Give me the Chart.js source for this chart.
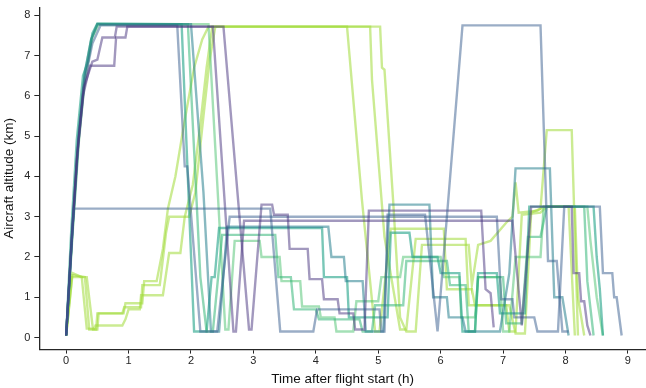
<!DOCTYPE html>
<html>
<head>
<meta charset="utf-8">
<script src="https://cdn.jsdelivr.net/npm/chart.js@4.4.1/dist/chart.umd.min.js"></script>
<style>
  html, body { margin: 0; padding: 0; background: #fff; }
  #wrap { width: 646px; height: 388px; }
</style>
</head>
<body>
<div id="wrap"><canvas id="alt"></canvas></div>
<script>
// each flight: [hours after start, altitude km]
const flightP1 = [[0,0.05],[0.08,2.2],[0.17,4.4],[0.27,6.0],[0.38,6.75],[0.77,6.75],[0.8,7.45],[0.95,7.45],[0.98,7.72],[2.52,7.72],[2.93,0.2],[2.97,0.2],[3.13,3.3],[3.3,3.3],[3.33,3.05],[3.55,3.05],[3.58,2.2],[3.87,2.2],[3.9,1.45],[4.1,1.45],[4.13,0.95],[4.35,0.95],[4.38,0.6],[4.6,0.6],[4.63,0.2],[4.78,0.2],[4.85,3.15],[6.65,3.15],[6.72,1.2],[6.8,1.1],[6.85,0.25]]
const flightP2 = [[0,0.05],[0.09,2.5],[0.18,4.6],[0.28,6.2],[0.42,6.85],[0.5,6.9],[0.58,7.45],[0.78,7.45],[0.81,7.72],[2.35,7.72],[2.68,0.15],[2.72,0.15],[2.85,2.9],[7.15,2.9],[7.3,0.3],[7.45,3.25],[8.1,3.25],[8.13,1.6],[8.22,1.6],[8.25,0.9],[8.3,0.9],[8.35,0.3],[8.4,0.05]]
const flightB1 = [[0,0.05],[0.12,3.2],[3.27,3.2],[3.43,0.15],[3.96,0.15],[4.02,0.7],[5.02,0.7],[5.05,0.15],[5.1,0.15],[5.15,3.05],[5.75,3.05],[5.95,0.15],[6.35,7.75],[7.6,7.75],[7.72,1.9],[7.86,1.9],[7.95,0.15],[8.05,0.15]]
const flightB2 = [[0,0.05],[0.1,2.6],[0.2,4.9],[0.3,6.4],[0.42,7.3],[0.55,7.75],[1.78,7.75],[1.9,4.25],[1.94,4.25],[2.15,0.15],[2.42,0.15],[2.62,3.0],[6.9,3.0],[6.97,0.95],[7.15,0.95],[7.18,0.5],[7.5,0.5],[7.55,0.15],[7.88,0.15],[7.98,3.25],[8.55,3.25],[8.6,1.6],[8.75,1.6],[8.78,1.0],[8.82,1.0],[8.9,0.05]]
const flightT1 = [[0,0.05],[0.1,2.7],[0.2,5.1],[0.3,6.6],[0.4,7.4],[0.5,7.78],[2.0,7.78],[2.2,3.6],[2.32,0.15],[2.45,0.15],[2.58,2.75],[4.2,2.75],[4.25,2.0],[4.45,2.0],[4.48,1.4],[4.75,1.4],[4.8,0.15],[5.08,0.15],[5.18,3.3],[5.82,3.3],[5.88,1.0],[6.1,1.0],[6.13,0.5],[6.35,0.5],[6.4,0.15],[6.95,0.15],[7.1,1.6],[7.2,4.2],[7.75,4.2],[7.82,1.0],[7.95,1.0],[8.05,0.05]]
const flightT2 = [[0,0.05],[0.1,2.65],[0.2,5.0],[0.3,6.55],[0.4,7.4],[0.5,7.78],[1.95,7.78],[2.15,1.5],[2.25,0.15],[2.35,0.15],[2.5,2.55],[3.35,2.55],[3.4,1.5],[3.6,1.5],[3.65,0.7],[4.0,0.7],[4.05,0.45],[4.7,0.45],[4.75,0.15],[4.9,0.15],[4.95,0.8],[5.4,0.8],[5.45,1.9],[6.1,1.9],[6.15,1.3],[6.4,1.3],[6.45,0.15],[6.55,0.15],[6.6,1.5],[7.0,1.5],[7.05,0.35],[7.3,0.35],[7.4,2.5],[7.6,2.5],[7.7,3.25],[8.3,3.25],[8.35,1.4],[8.45,0.05]]
const flightG1 = [[0,0.05],[0.08,2.6],[0.17,4.9],[0.27,6.5],[0.35,6.85],[0.42,7.55],[0.5,7.8],[1.85,7.78],[2.05,0.15],[2.25,0.15],[2.33,1.5],[2.38,1.5],[2.45,2.72],[4.1,2.72],[4.13,1.5],[4.5,1.5],[4.53,0.5],[5.15,0.5],[5.2,2.6],[5.5,2.6],[5.55,2.0],[5.95,2.0],[6.0,1.6],[6.3,1.6],[6.35,0.15],[6.55,0.15],[6.6,1.6],[6.9,1.6],[6.95,0.6],[7.35,0.6],[7.42,3.25],[8.45,3.25],[8.5,2.0],[8.55,1.2],[8.6,0.05]]
const flightL1 = [[0,0.05],[0.1,2.5],[0.2,4.8],[0.3,6.4],[0.42,7.45],[0.52,7.78],[2.28,7.78],[2.55,0.2],[2.6,0.2],[2.7,2.4],[3.1,2.4],[3.13,2.0],[3.42,2.0],[3.45,1.4],[3.75,1.4],[3.78,0.77],[4.05,0.77],[4.08,0.5],[4.3,0.5],[4.33,0.15],[4.6,0.15],[4.65,0.9],[5.0,0.9],[5.05,1.5],[5.35,1.5],[5.4,2.0],[6.0,2.0],[6.05,1.5],[6.3,1.5],[6.33,0.5],[6.55,0.5],[6.6,1.5],[6.95,1.5],[7.0,0.15],[7.1,0.15],[7.2,2.0],[7.6,2.0],[7.65,3.25],[8.35,3.25],[8.4,2.4],[8.5,1.0],[8.6,0.05]]
const flightY1 = [[0,0.05],[0.08,1.5],[0.33,1.5],[0.43,0.2],[0.48,0.2],[0.5,0.6],[0.92,0.6],[0.95,0.85],[1.22,0.85],[1.25,1.4],[1.45,1.4],[1.55,2.2],[1.63,3.2],[1.75,4.0],[1.9,5.4],[2.05,6.7],[2.18,7.4],[2.28,7.72],[4.5,7.72],[4.74,3.4],[4.95,0.15],[5.02,0.15],[5.2,2.7],[6.05,2.7],[6.1,1.2],[6.5,1.2],[6.55,0.8],[7.1,0.8],[7.2,0.1],[7.35,0.1],[7.45,3.1],[7.6,3.2],[7.7,5.15],[8.1,5.15],[8.2,0.05]]
const flightY2 = [[0,0.05],[0.1,1.6],[0.25,1.5],[0.33,0.22],[0.45,0.22],[0.47,0.3],[0.9,0.3],[0.95,0.45],[1.0,0.7],[1.18,0.7],[1.2,1.05],[1.55,1.05],[1.65,2.1],[1.83,2.1],[1.9,3.0],[2.03,3.8],[2.15,5.3],[2.25,6.7],[2.34,7.72],[4.87,7.72],[4.9,6.4],[5.1,2.5],[5.35,0.2],[5.45,0.2],[5.6,2.45],[6.4,2.45],[6.45,0.8],[7.05,0.8],[7.1,0.15],[7.2,0.15],[7.3,3.05],[7.6,3.1],[7.7,3.25],[8.05,3.25],[8.15,0.05]]
const flightY3 = [[0,0.05],[0.1,1.55],[0.3,1.5],[0.37,0.2],[0.5,0.2],[0.52,0.6],[0.9,0.6],[0.93,0.75],[1.2,0.75],[1.22,1.3],[1.5,1.3],[1.6,2.6],[1.65,3.0],[1.97,3.0],[2.07,3.6],[2.2,5.5],[2.3,6.9],[2.39,7.72],[5.03,7.72],[5.06,6.7],[5.1,6.65],[5.24,3.37],[5.35,0.5],[5.45,0.15],[5.6,0.15],[5.7,2.3],[6.45,2.3],[6.5,1.3],[6.6,2.3],[6.8,2.4],[7.05,2.85],[7.15,3.0],[7.2,3.85],[7.25,3.1],[7.55,3.15],[7.65,3.25],[8.15,3.25],[8.2,1.0],[8.3,0.05]]

const xTicks = [0,1,2,3,4,5,6,7,8,9]
const yTicks = [0,1,2,3,4,5,6,7,8]

// viridis shades, drawn with transparency
const flights = [
  [flightB1, 'rgba(54,92,141,0.5)'],
  [flightP1, 'rgba(70,50,126,0.5)'],
  [flightP2, 'rgba(70,50,126,0.5)'],
  [flightB2, 'rgba(54,92,141,0.5)'],
  [flightT1, 'rgba(39,127,142,0.55)'],
  [flightT2, 'rgba(53,183,121,0.55)'],
  [flightG1, 'rgba(31,161,135,0.6)'],
  [flightL1, 'rgba(74,193,109,0.5)'],
  [flightY1, 'rgba(160,218,57,0.55)'],
  [flightY2, 'rgba(160,218,57,0.55)'],
  [flightY3, 'rgba(160,218,57,0.55)']
]

const datasets = flights.map(f => ({
  data: f[0].map(p => ({x: p[0], y: p[1]})),
  borderColor: f[1],
  borderWidth: 2.4,
  pointRadius: 0,
  showLine: true,
  tension: 0,
  fill: false
}))

const family = "'Liberation Sans', Arial, sans-serif"
const titleFont = { family: family, size: 13.5 }

new Chart(document.getElementById('alt'), {
  type: 'scatter',
  data: { datasets: datasets },
  options: {
    responsive: true,
    maintainAspectRatio: false,
    animation: false,
    layout: { padding: { left: 1, right: 0, top: 1, bottom: 1 } },
    plugins: { legend: { display: false }, tooltip: { enabled: false } },
    scales: {
      x: {
        type: 'linear',
        min: -0.43,
        max: 9.29,
        afterBuildTicks: axis => { axis.ticks = xTicks.map(v => ({value: v})) },
        ticks: { color: '#262626', font: { family: family, size: 11 }, padding: 1 },
        grid: { drawOnChartArea: false, drawTicks: true, tickLength: 4, color: '#262626' },
        border: { color: '#262626', width: 1.3 },
        title: { display: true, text: 'Time after flight start (h)', color: '#111', font: titleFont, padding: { top: 2, bottom: 0 } }
      },
      y: {
        min: -0.3,
        max: 8.2,
        afterBuildTicks: axis => { axis.ticks = yTicks.map(v => ({value: v})) },
        ticks: { color: '#262626', font: { family: family, size: 11, lineHeight: 0.6 }, padding: 4 },
        grid: { drawOnChartArea: false, drawTicks: true, tickLength: 5, color: '#262626' },
        border: { color: '#262626', width: 1.3 },
        title: { display: true, text: 'Aircraft altitude (km)', color: '#111', font: titleFont, padding: { top: 0, bottom: 3 } }
      }
    }
  }
})
</script>
</body>
</html>
